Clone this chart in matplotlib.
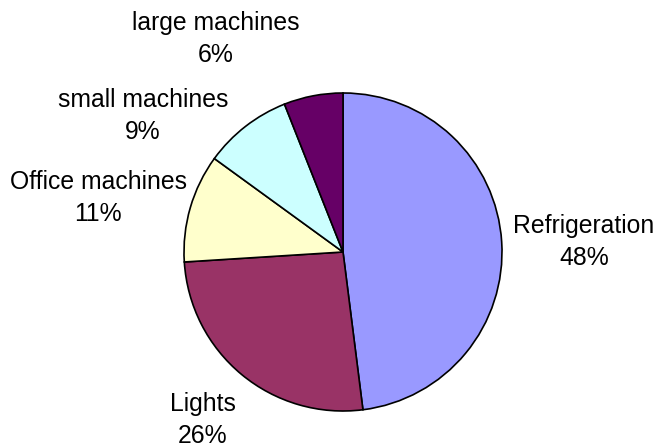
import matplotlib.pyplot as plt

plt.rcParams["font.family"] = ["Liberation Sans", "DejaVu Sans"]

# energy use by category, percent
categories = ["Refrigeration", "Lights", "Office machines", "small machines", "large machines"]
shares = [48, 26, 11, 9, 6]
colors = ["#9999FF", "#993366", "#FFFFCC", "#CCFFFF", "#660066"]

# label centres in pixels (x, y from top)
label_px = [(584, 242), (203, 420), (98, 198), (143, 116), (216, 39)]

W, H = 659, 447
cx, cy, r = 343, 252, 159

fig = plt.figure(figsize=(W / 100, H / 100), dpi=100)
ax = fig.add_axes([(cx - r) / W, (H - cy - r) / H, 2 * r / W, 2 * r / H])
ax.pie(
    shares,
    colors=colors,
    startangle=90,
    counterclock=False,
    radius=1,
    wedgeprops=dict(edgecolor="black", linewidth=1.2),
)
ax.set_xlim(-1, 1)
ax.set_ylim(-1, 1)
ax.set_aspect("equal")

for name, pct, (px, py) in zip(categories, shares, label_px):
    fig.text(px / W, 1 - py / H, f"{name}\n{pct}%", ha="center", va="center",
             fontsize=17.8, linespacing=1.4, color="black")

fig.savefig("out.png", dpi=100)
